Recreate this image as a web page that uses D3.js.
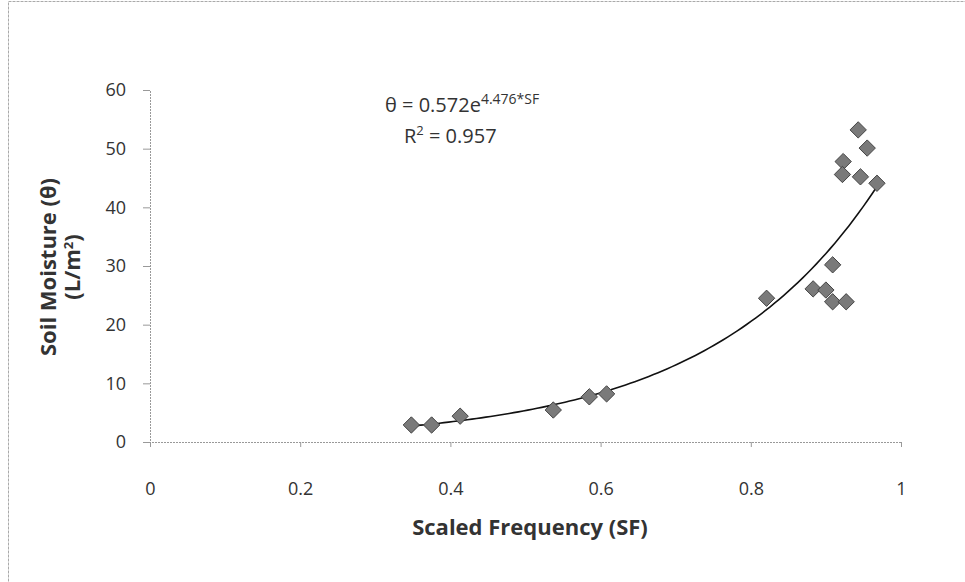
<!DOCTYPE html>
<html><head><meta charset="utf-8">
<script src="https://cdn.jsdelivr.net/npm/d3@7"></script>
<style>body{margin:0;background:#fff}svg{display:block}</style>
</head><body>
<svg id="c" width="965" height="582"></svg>
<script>
const sf = [0.348,0.375,0.413,0.537,0.585,0.608,0.821,0.883,0.900,0.909,0.909,0.927,0.923,0.922,0.943,0.955,0.946,0.968];
const theta = [2.9,2.9,4.4,5.45,7.7,8.2,24.5,26.1,25.9,23.9,30.2,23.9,47.8,45.6,53.2,50.1,45.2,44.1];
const xTicks = [0,0.2,0.4,0.6,0.8,1];
const yTicks = [0,10,20,30,40,50,60];
const fitA = 0.572, fitB = 4.476;
const fitRange = [0.348, 0.968];

const svg = d3.select('#c');
const font = "'Open Sans','Liberation Sans',sans-serif";
svg.append('rect').attr('x',8.5).attr('y',1.5).attr('width',970).attr('height',600)
  .attr('fill','none').attr('stroke','#aaa').attr('stroke-width',1).attr('stroke-dasharray','3,1');

const x = d3.scaleLinear().domain([0,1]).range([150,901]);
const y = d3.scaleLinear().domain([0,60]).range([442,90]);

const xAxis = svg.append('g').attr('transform','translate(0,442)')
  .call(d3.axisBottom(x).tickValues(xTicks).tickSize(5).tickPadding(35).tickFormat(d3.format('')));
const yAxis = svg.append('g').attr('transform','translate(150,0)')
  .call(d3.axisLeft(y).tickValues(yTicks).tickSize(7).tickPadding(17));
[xAxis,yAxis].forEach(a=>{
  a.select('.domain').attr('stroke','#999').attr('stroke-dasharray','2,1');
  a.selectAll('.tick line').attr('stroke','#999');
  a.selectAll('text').attr('font-family',font).attr('font-size',18).attr('fill','#333');
});

// fit curve
const fx = d3.range(0,101).map(i=>fitRange[0]+(fitRange[1]-fitRange[0])*i/100);
svg.append('path').datum(fx)
  .attr('d', d3.line().x(d=>x(d)).y(d=>y(fitA*Math.exp(fitB*d))))
  .attr('fill','none').attr('stroke','#111').attr('stroke-width',1.6);

// markers
const sym = d3.symbol().type(d3.symbolDiamond2).size(170);
svg.append('g').selectAll('path').data(sf.map((v,i)=>[v,theta[i]])).join('path')
  .attr('d',sym).attr('transform',d=>`translate(${x(d[0])},${y(d[1])})`)
  .attr('fill','#7a7a7a').attr('stroke','#444').attr('stroke-width',1);

// equation
const eq = svg.append('text').attr('x',385).attr('y',112).attr('font-family',font).attr('font-size',20).attr('fill','#333');
eq.append('tspan').text('θ = 0.572e');
eq.append('tspan').attr('dy',-8).attr('font-size',14).text('4.476*SF');
const r2 = svg.append('text').attr('x',404).attr('y',143).attr('font-family',font).attr('font-size',20).attr('fill','#333');
r2.append('tspan').text('R');
r2.append('tspan').attr('dy',-8).attr('font-size',13).text('2');
r2.append('tspan').attr('dy',8).text(' = 0.957');

// axis titles
svg.append('text').attr('x',530).attr('y',535).attr('text-anchor','middle')
  .attr('font-family',font).attr('font-size',22).attr('font-weight','bold').attr('fill','#333')
  .text('Scaled Frequency (SF)');
const yt = svg.append('text').attr('transform','translate(56,267) rotate(-90)').attr('text-anchor','middle')
  .attr('font-family',font).attr('font-size',22).attr('font-weight','bold').attr('fill','#333');
yt.append('tspan').attr('x',0).attr('dy',0).text('Soil Moisture (θ)');
const l2 = yt.append('tspan').attr('x',0).attr('dy',24).text('(L/m');
l2.append('tspan').attr('dy',-7).attr('font-size',13).text('2');
l2.append('tspan').attr('dy',7).text(')');
</script>
</body></html>
